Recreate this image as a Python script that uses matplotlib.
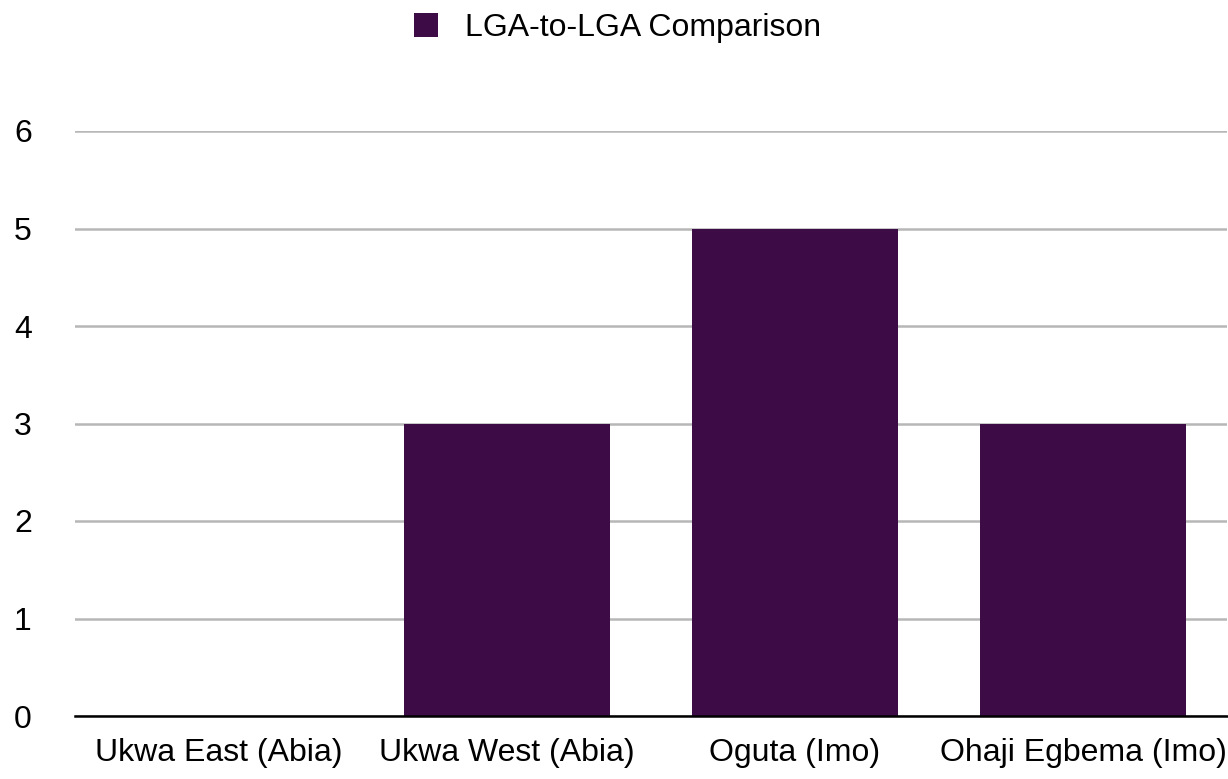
import matplotlib.pyplot as plt
from matplotlib.patches import Patch

categories = ["Ukwa East (Abia)", "Ukwa West (Abia)", "Oguta (Imo)", "Ohaji Egbema (Imo)"]
values = [0, 3, 5, 3]
series_name = "LGA-to-LGA Comparison"
bar_color = "#3d0c47"

plt.rcParams['font.family'] = ['Liberation Sans', 'DejaVu Sans']

fig = plt.figure(figsize=(12.28, 7.79), dpi=100)
ax = fig.add_axes([75 / 1228, 1 - 716 / 779, 1152 / 1228, (716 - 131) / 779])

x = list(range(len(categories)))
ax.bar(x, values, width=0.715, color=bar_color, zorder=3)

ax.set_xlim(-0.5, len(categories) - 0.5)
ax.set_ylim(0, 6)
ax.set_yticks(range(0, 7))
ax.set_xticks(x)
ax.set_xticklabels(categories)
ax.tick_params(axis='both', length=0, labelsize=23)
ax.tick_params(axis='x', pad=16)
ax.tick_params(axis='y', pad=44)
for lbl in ax.get_yticklabels():
    lbl.set_horizontalalignment('left')

ax.grid(axis='y', color='#b7b7b7', linewidth=1.8, zorder=0)
for s in ['top', 'right', 'left']:
    ax.spines[s].set_visible(False)
ax.spines['bottom'].set_color('black')
ax.spines['bottom'].set_linewidth(1.8)
ax.spines['bottom'].set_zorder(4)

handles = [Patch(facecolor=bar_color, label=series_name)]
fig.legend(handles=handles, loc='upper center', bbox_to_anchor=(0.503, 1.02),
           frameon=False, fontsize=23, handlelength=0.75, handleheight=0.75,
           handletextpad=0.85)

fig.savefig("out.png", dpi=100)
